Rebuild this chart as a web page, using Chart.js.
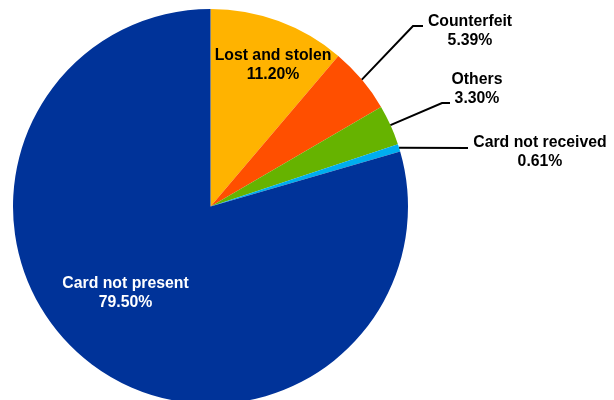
<!DOCTYPE html>
<html>
<head>
<meta charset="utf-8">
<script src="https://cdn.jsdelivr.net/npm/chart.js@4.4.0/dist/chart.umd.min.js"></script>
<style>
  html, body { margin: 0; padding: 0; overflow: hidden; background: #fff; }
  #wrap { width: 614px; height: 410px; }
</style>
</head>
<body>
<div id="wrap"><canvas id="fraudChart" width="614" height="410"></canvas></div>
<script>
// fraud losses by type (share of total value)
const categories = ['Lost and stolen', 'Counterfeit', 'Others', 'Card not received', 'Card not present'];
const shares = [11.20, 5.39, 3.30, 0.61, 79.50];
const shareLabels = ['11.20%', '5.39%', '3.30%', '0.61%', '79.50%'];
const sliceColors = ['#FFB300', '#FF4F00', '#66B300', '#00AEEF', '#003399'];

// where each label sits; "inside" labels go at a fixed point, others get a leader line
const labelLayout = [
    { inside: true, x: 273, y: 56, color: '#000' },
    { inside: false, elbow: [413, 26], end: [423, 26], x: 470, y: 22 },
    { inside: false, elbow: [442, 103], end: [450, 103], x: 477, y: 80 },
    { inside: false, elbow: null, end: [468, 148], x: 540, y: 143 },
    { inside: true, x: 125.5, y: 284, color: '#fff' }
];

const pieLabels = {
    id: 'pieLabels',
    afterDatasetsDraw(chart) {
        const ctx = chart.ctx;
        const arcs = chart.getDatasetMeta(0).data;
        ctx.save();
        ctx.font = 'bold 15.8px "Liberation Sans", Arial, sans-serif';
        ctx.textAlign = 'center';
        ctx.textBaseline = 'middle';
        arcs.forEach((arc, i) => {
            const lay = labelLayout[i];
            if (!lay.inside) {
                const mid = (arc.startAngle + arc.endAngle) / 2;
                const sx = arc.x + Math.cos(mid) * arc.outerRadius;
                const sy = arc.y + Math.sin(mid) * arc.outerRadius;
                ctx.strokeStyle = '#000';
                ctx.lineWidth = 2;
                ctx.beginPath();
                ctx.moveTo(sx, sy);
                if (lay.elbow) ctx.lineTo(lay.elbow[0], lay.elbow[1]);
                ctx.lineTo(lay.end[0], lay.end[1]);
                ctx.stroke();
            }
            ctx.fillStyle = lay.color || '#000';
            ctx.fillText(categories[i], lay.x, lay.y);
            ctx.fillText(shareLabels[i], lay.x, lay.y + 18.5);
        });
        ctx.restore();
    }
};

new Chart(document.getElementById('fraudChart'), {
    type: 'pie',
    data: {
        labels: categories,
        datasets: [{
            data: shares,
            backgroundColor: sliceColors,
            borderWidth: 0
        }]
    },
    options: {
        responsive: false,
        animation: false,
        layout: {
            padding: { left: 13, right: 206, top: 9, bottom: 6 }
        },
        plugins: {
            legend: { display: false },
            tooltip: { enabled: false }
        }
    },
    plugins: [pieLabels]
});
</script>
</body>
</html>
